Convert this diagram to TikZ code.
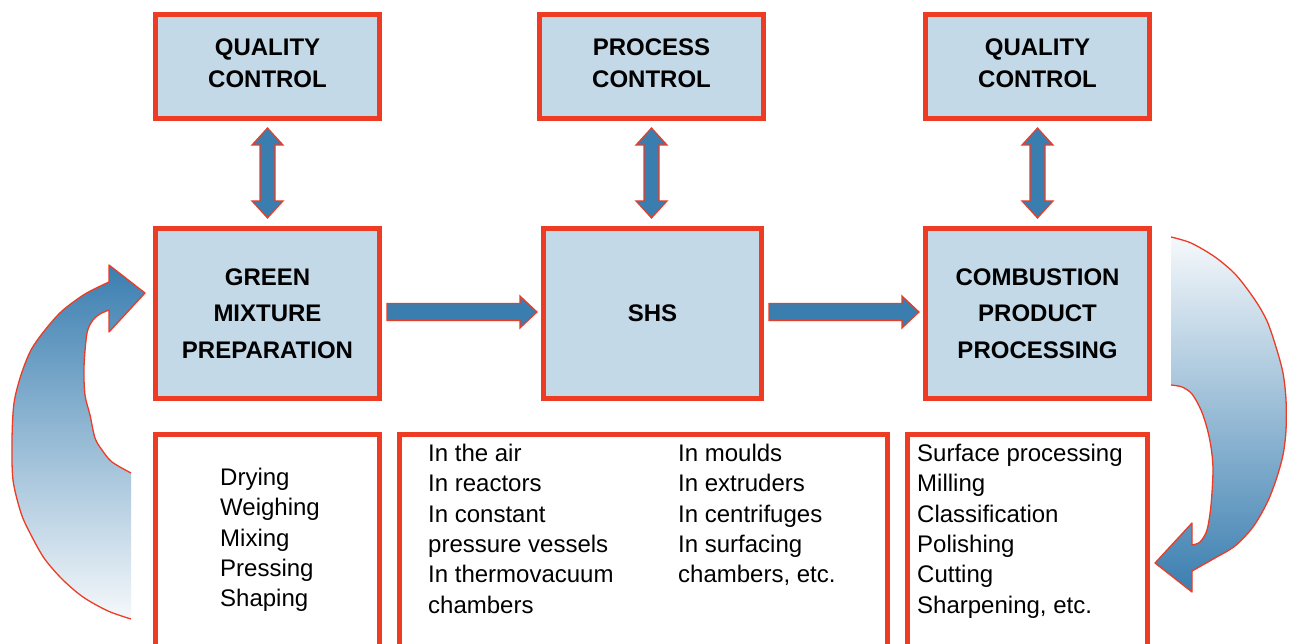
\documentclass[tikz,border=0pt]{standalone}
\usepackage{fontspec}
\setmainfont{Liberation Sans}
\usetikzlibrary{calc}
\definecolor{bred}{RGB}{238,59,36}
\definecolor{bfill}{RGB}{195,217,232}
\definecolor{ablue}{RGB}{58,126,176}
\newcommand\vdblarrow[2]{%
  \coordinate (#1-t) at ($(#1.south)+(0,7)$);
  \coordinate (#1-b) at ($(#1-t |- #2.north)+(0,-8)$);
  \draw[arrowshape] (#1-t) -- ($(#1-t)+(15.5,17)$) -- ($(#1-t)+(7.5,17)$)
    -- ($(#1-b)+(7.5,-17)$) -- ($(#1-b)+(15.5,-17)$) -- (#1-b)
    -- ($(#1-b)+(-15.5,-17)$) -- ($(#1-b)+(-7.5,-17)$)
    -- ($(#1-t)+(-7.5,17)$) -- ($(#1-t)+(-15.5,17)$) -- cycle;}
\newcommand\hsglarrow[2]{%
  \coordinate (#1-s) at ($(#1.east)+(5,-1.5)$);
  \coordinate (#1-e) at ($(#2.west)+(-4,-1.5)$);
  \draw[arrowshape] ($(#1-s)+(0,-8.5)$) -- ($(#1-e)+(-17,-8.5)$)
    -- ($(#1-e)+(-17,-16)$) -- (#1-e) -- ($(#1-e)+(-17,16)$)
    -- ($(#1-e)+(-17,8.5)$) -- ($(#1-s)+(0,8.5)$) -- cycle;}
\begin{document}
\begin{tikzpicture}[x=1pt,y=-1pt,
  topbox/.style={draw=bred, line width=5pt, fill=bfill, minimum width=224pt,
    minimum height=104pt, inner sep=0pt},
  toptext/.style={inner sep=0pt, align=center,
    font=\bfseries\fontsize{24}{32}\selectfont},
  midbox/.style={draw=bred, line width=5pt, fill=bfill, minimum width=224pt,
    minimum height=170pt, inner sep=0pt, align=center,
    font=\bfseries\fontsize{24}{36.5}\selectfont},
  lowbox/.style={draw=bred, line width=5pt, fill=white,
    minimum height=212.5pt, inner sep=0pt},
  listtext/.style={anchor=north west, inner sep=0pt, align=left,
    font=\fontsize{24}{30.4}\selectfont},
  arrowshape/.style={fill=ablue, draw=bred, line width=1.2pt, line join=miter},
  curveline/.style={draw=bred, line width=1.3pt, line join=round}]
\useasboundingbox (0,0) rectangle (1289,644);
\fill[white] (0,0) rectangle (1289,644);
% top row
\node[topbox] (qc1) at (267.5,66.5) {};
\node[topbox] (pc) at (651.5,66.5) {};
\node[topbox] (qc2) at (1037.5,66.5) {};
\node[toptext] (qc1t) at ($(qc1.center)+(0,-3)$) {QUALITY\\CONTROL};
\node[toptext] (pct) at ($(pc.center)+(0,-3)$) {PROCESS\\CONTROL};
\node[toptext] (qc2t) at ($(qc2.center)+(0,-3)$) {QUALITY\\CONTROL};
% middle row
\node[midbox] (gm) at (267.5,313.5) {GREEN\\MIXTURE\\PREPARATION};
\node[midbox, minimum width=218pt] (shs) at (652.5,313.5) {SHS};
\node[midbox] (cpp) at (1037.5,313.5) {COMBUSTION\\PRODUCT\\PROCESSING};
% bottom row
\node[lowbox, minimum width=224pt] (lb) at (267.5,540.75) {};
\node[lowbox, minimum width=488pt] (mb) at (643.5,540.75) {};
\node[lowbox, minimum width=240pt] (rb) at (1027.5,540.75) {};
\node[listtext] (lt) at (220,467.8) {Drying\\Weighing\\Mixing\\Pressing\\Shaping};
\node[listtext] (mt1) at (428,443.8) {In the air\\In reactors\\In constant\\pressure vessels\\In thermovacuum\\chambers};
\node[listtext] (mt2) at (678,443.8) {In moulds\\In extruders\\In centrifuges\\In surfacing\\chambers, etc.};
\node[listtext] (rt) at (917,443.8) {Surface processing\\Milling\\Classification\\Polishing\\Cutting\\Sharpening, etc.};
% vertical double arrows
\vdblarrow{qc1}{gm}
\vdblarrow{pc}{shs}
\vdblarrow{qc2}{cpp}
% horizontal arrows
\hsglarrow{gm}{shs}
\hsglarrow{shs}{cpp}
% left curved arrow
\coordinate (lctip) at ($(gm.west)+(-8,-20.5)$);
\shade[top color=ablue, bottom color=white!95!ablue]
  (lctip) -- (109,265) -- (109,282)
  -- plot[smooth] coordinates {(109,282) (85,294) (62,311) (45,330) (31,350) (21,375) (14,403) (12,440) (13,480) (21,513) (30,533) (44,558) (62,579) (83,597) (108,611) (131,619)}
  -- (131,473)
  -- plot[smooth] coordinates {(131,473) (112,462) (102,450) (95,438) (90,415) (85,395) (84,367) (87,333) (93,320) (100,314) (109,310)}
  -- (109,332) -- cycle;
\draw[curveline]
  plot[smooth] coordinates {(131,473) (112,462) (102,450) (95,438) (90,415) (85,395) (84,367) (87,333) (93,320) (100,314) (109,310)}
  -- (109,332) -- (lctip) -- (109,265) -- (109,282)
  -- plot[smooth] coordinates {(109,282) (85,294) (62,311) (45,330) (31,350) (21,375) (14,403) (12,440) (13,480) (21,513) (30,533) (44,558) (62,579) (83,597) (108,611) (131,619)};
% right curved arrow
\coordinate (rctip) at (1155,563);
\shade[top color=white!95!ablue, bottom color=ablue]
  (1171,237)
  -- plot[smooth] coordinates {(1171,237) (1191,243) (1215,257) (1236,275) (1255,300) (1267,321) (1276,347) (1283,373) (1286,400) (1286,430) (1283,455) (1276,480) (1267,503) (1253,527) (1235,546) (1215,558) (1192,571)}
  -- (1192,592) -- (rctip) -- (1192,523) -- (1192,545)
  -- plot[smooth] coordinates {(1192,545) (1200,542) (1207,530) (1211,505) (1213,470) (1211,447) (1207,428) (1201,410) (1192,394) (1182,387) (1171,385)}
  -- cycle;
\draw[curveline]
  plot[smooth] coordinates {(1171,237) (1191,243) (1215,257) (1236,275) (1255,300) (1267,321) (1276,347) (1283,373) (1286,400) (1286,430) (1283,455) (1276,480) (1267,503) (1253,527) (1235,546) (1215,558) (1192,571)}
  -- (1192,592) -- (rctip) -- (1192,523) -- (1192,545)
  -- plot[smooth] coordinates {(1192,545) (1200,542) (1207,530) (1211,505) (1213,470) (1211,447) (1207,428) (1201,410) (1192,394) (1182,387) (1171,385)};
\end{tikzpicture}
\end{document}
